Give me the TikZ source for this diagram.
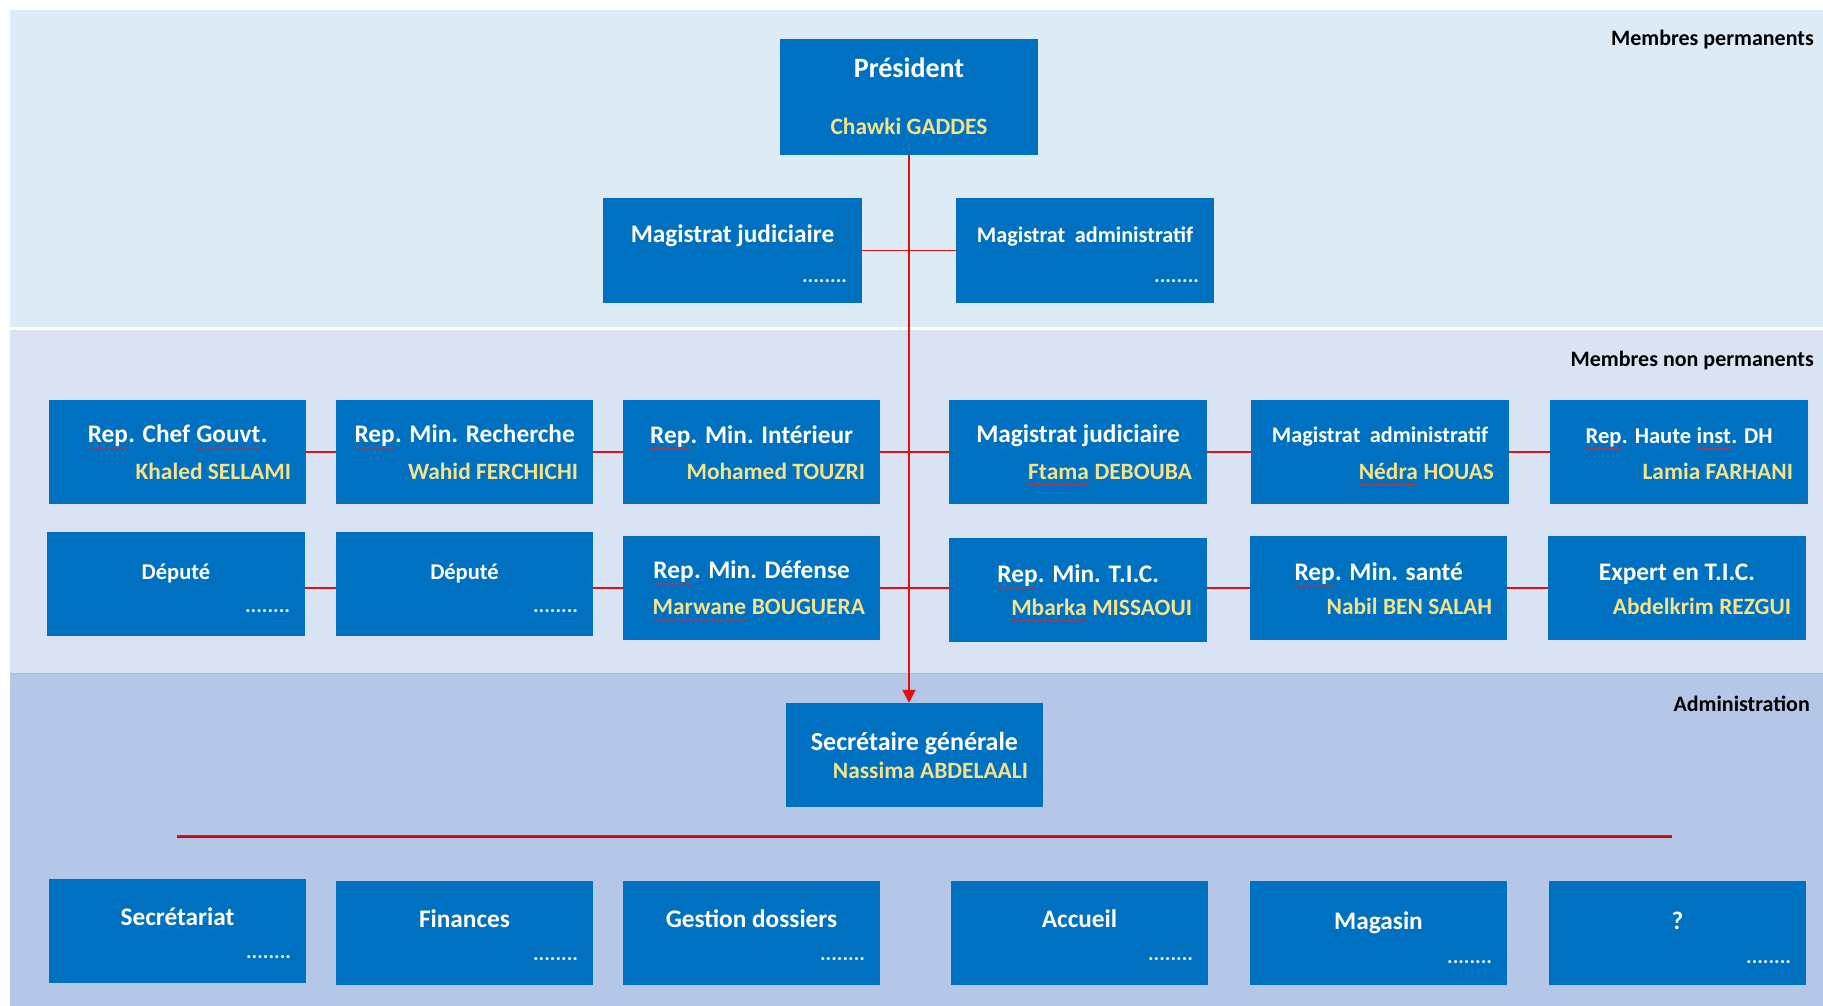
\documentclass[tikz,border=0pt]{standalone}
\usepackage{fontspec}
\setmainfont{Carlito}
\usetikzlibrary{arrows.meta,calc,decorations.pathmorphing}
\definecolor{boxblue}{HTML}{0070C0}
\definecolor{bandA}{HTML}{DDEBF7}
\definecolor{bandB}{HTML}{DAE3F3}
\definecolor{bandC}{HTML}{B4C7E7}
\definecolor{bandline}{HTML}{A9BCDF}
\definecolor{namey}{HTML}{F2E38C}
\definecolor{dotc}{HTML}{E4EEF4}
\definecolor{lnred}{HTML}{E01010}
\definecolor{lndark}{HTML}{8A1A2A}
\definecolor{spellred}{HTML}{E02828}
\tikzset{
  orgbox/.style={fill=boxblue, draw=none, inner sep=0pt},
  ttl/.style={text=white, font=\fontsize{25.3}{29}\selectfont\bfseries, inner sep=0pt, anchor=base},
  nm/.style={text=namey, font=\fontsize{23.4}{27}\selectfont\bfseries, inner sep=0pt, anchor=base east},
  bandlbl/.style={text=black, font=\fontsize{22}{26}\selectfont\bfseries, inner sep=0pt, anchor=base east},
  conn/.style={draw=lnred, line width=1.8pt},
  squig/.style={draw=spellred, line width=0.7pt, decorate, decoration={snake, amplitude=0.7pt, segment length=3.2pt}},
}
\newcommand\dotsx{\textcolor{dotc}{\fontsize{21}{24}\selectfont........}}
\newcommand\spl[1]{\tikz[baseline=(w.base)]{\node[inner sep=0pt, outer sep=0pt, anchor=base] (w) at (0,0) {#1}; \draw[squig] ([yshift=-5pt]w.base west) -- ([yshift=-5pt]w.base east);}}
\newcommand\orgnode[9]{%
  \node[orgbox, minimum width={#4-#2}, minimum height={#5-#3}] (#1) at ({(#2+#4)/2},{(#3+#5)/2}) {};
  \node[ttl] (#1-t) at ($(#1.north)+(0,#8+8)$) {#6};
  \node[nm] (#1-n) at ($(#1.north east)+(-15,#9+8)$) {#7};
}
\newcommand\fsz[1]{\fontsize{#1}{#1}\selectfont}
\begin{document}
\begin{tikzpicture}[x=1pt,y=-1pt]
\useasboundingbox (0,0) rectangle (1823,1006);
\fill[white] (0,0) rectangle (1823,1006);
% bands
\fill[bandA] (10,10) rectangle (1823,327);
\fill[bandB] (10,330) rectangle (1823,673);
\fill[bandC] (10,673) rectangle (1823,1006);
\draw[bandline, line width=1pt] (10,673.5) -- (1823,673.5);
% band labels
\node[bandlbl] (lblA) at (1814,46) {Membres permanents};
\node[bandlbl] (lblB) at (1814,366) {Membres non permanents};
\node[bandlbl] (lblC) at (1810,711) {Administration};
% president
\node[orgbox, minimum width=258, minimum height=116] (pres) at (909,97) {};
\node[ttl, font=\fsz{28}\bfseries] (pres-t) at ($(pres.north)+(0,39)$) {Président};
\node[nm, anchor=base] (pres-n) at ($(pres.north)+(0,96)$) {Chawki GADDES};
% permanent magistrates
\orgnode{mj}{603}{198}{862}{303}{Magistrat judiciaire}{\dotsx}{37}{77}
\orgnode{ma}{956}{198}{1214}{303}{\fsz{22.2}Magistrat\hspace{0.2em} administratif}{\dotsx}{37}{77}
% non permanent row 1
\orgnode{ra}{49}{400}{306}{504}{\spl{Rep}. Chef \spl{Gouvt}.}{Khaled SELLAMI}{35}{72}
\orgnode{rb}{336}{400}{593}{504}{\spl{Rep}. Min. Recherche}{Wahid FERCHICHI}{35}{72}
\orgnode{rc}{623}{400}{880}{504}{\spl{Rep}. Min. Intérieur}{Mohamed TOUZRI}{36}{72}
\orgnode{rd}{949}{400}{1207}{504}{Magistrat judiciaire}{\spl{Ftama} DEBOUBA}{35}{72}
\orgnode{re}{1251}{400}{1509}{504}{\fsz{22.2}Magistrat\hspace{0.2em} administratif}{\spl{Nédra} HOUAS}{35}{72}
\orgnode{rf}{1550}{400}{1808}{504}{\fsz{22.6}\spl{Rep}. Haute \spl{inst}. DH}{Lamia FARHANI}{36}{72}
% non permanent row 2
\orgnode{sa}{47}{532}{305}{636}{\fsz{22.5}Député}{\dotsx}{40}{73}
\orgnode{sb}{336}{532}{593}{636}{\fsz{22.5}Député}{\dotsx}{40}{73}
\orgnode{sc}{623}{536}{880}{640}{\spl{Rep}. Min. Défense}{\spl{Marwane} BOUGUERA}{35}{71}
\orgnode{sd}{949}{538}{1207}{642}{\spl{Rep}. Min. T.I.C.}{\spl{Mbarka} MISSAOUI}{37}{70}
\orgnode{se}{1250}{536}{1507}{640}{\spl{Rep}. Min. santé}{Nabil BEN SALAH}{37}{71}
\orgnode{sf}{1548}{536}{1806}{640}{Expert en T.I.C.}{Abdelkrim REZGUI}{37}{71}
% administration
\orgnode{sg}{786}{703}{1043}{807}{\fsz{26}Secrétaire générale}{Nassima ABDELAALI}{40}{68}
\orgnode{ua}{49}{879}{306}{983}{Secrétariat}{\dotsx}{39}{72}
\orgnode{ub}{336}{881}{593}{985}{Finances}{\dotsx}{39}{72}
\orgnode{uc}{623}{881}{880}{985}{Gestion dossiers}{\dotsx}{39}{72}
\orgnode{ud}{951}{881}{1208}{985}{Accueil}{\dotsx}{39}{72}
\orgnode{ue}{1250}{881}{1507}{985}{Magasin}{\dotsx}{41}{75}
\orgnode{uf}{1549}{881}{1806}{985}{?}{\dotsx}{41}{75}
% connectors
\draw[conn] (mj.east) -- (ma.west);
\draw[conn] (ra.east) -- (rb.west);
\draw[conn] (rb.east) -- (rc.west);
\draw[conn] (rc.east) -- (rd.west);
\draw[conn] (rd.east) -- (re.west);
\draw[conn] (re.east) -- (rf.west);
\draw[conn] (sa.east |- sc.east) -- (sb.west |- sc.east);
\draw[conn] (sb.east |- sc.east) -- (sc.west);
\draw[conn] (sc.east) -- (sd.west |- sc.east);
\draw[conn] (sd.east |- sc.east) -- (se.west |- sc.east);
\draw[conn] (se.east |- sc.east) -- (sf.west |- sc.east);
\draw[conn, -{Triangle[width=13pt,length=13pt]}] (pres.south) -- (pres.south |- sg.north);
% administration bar
\coordinate (hl) at (177,836);
\coordinate (hr) at (1672,836);
\draw[lndark, line width=1.4pt] ($(hl)+(0,1.6)$) -- ($(hr)+(0,1.6)$);
\draw[lnred, line width=2.2pt] (hl) -- (hr);
\end{tikzpicture}
\end{document}
